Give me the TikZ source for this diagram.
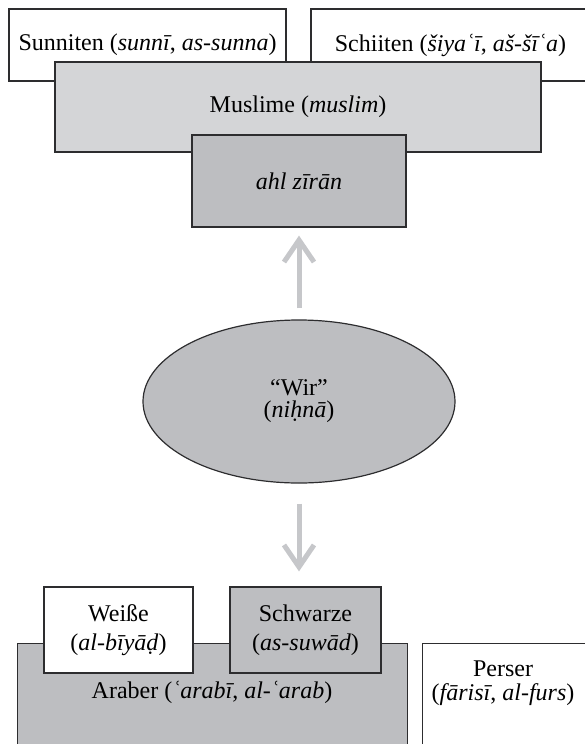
\documentclass[tikz,border=0pt]{standalone}
\usepackage{fontspec}
\setmainfont{Liberation Serif}
\usetikzlibrary{shapes.geometric,arrows.meta}

\definecolor{edgegrey}{RGB}{45,45,47}
\definecolor{lightgrey}{RGB}{212,213,215}
\definecolor{midgrey}{RGB}{189,190,193}
\definecolor{arrowgrey}{RGB}{198,199,202}

\begin{document}
\begin{tikzpicture}[x=1pt, y=-1pt,
    box/.style={draw=edgegrey, line width=1.2pt, inner sep=0pt, align=center,
                font=\fontsize{24}{24}\selectfont},
    txt/.style={inner sep=0pt, align=center, font=\fontsize{24}{24}\selectfont},
    bigarrow/.style={draw=arrowgrey, line width=5pt,
                     -{Straight Barb[length=22pt, width=30pt]}}]
  \clip (0,0) rectangle (585,744);

  % top: religious groups
  \node[box, fill=white, minimum width=277, minimum height=72]
    (sunni) at (147.5,45) {Sunniten (\textit{sunnī}, \textit{as-sunna})};
  \node[box, fill=white, minimum width=279, minimum height=72]
    (schia) at (450.5,45) {Schiiten (\textit{šiyaʿī}, \textit{aš-šīʿa})};
  \node[box, fill=lightgrey, minimum width=486, minimum height=90]
    (muslim) at (298,107) {Muslime (\textit{muslim})};
  \node[box, fill=midgrey, minimum width=214, minimum height=92]
    (ahl) at (299,181) {\textit{ahl zīrān}};

  % centre
  \node[box, ellipse, fill=midgrey, minimum width=312, minimum height=163,
        font=\fontsize{24}{22}\selectfont]
    (wir) at (299,401.5) {“Wir”\\(\textit{niḥnā})};

  % bottom: ethnic groups
  \node[box, fill=midgrey, minimum width=390, minimum height=120, anchor=north west]
    (araber) at (17,643) {};
  \node[txt] (araberlabel) at (212,692) {Araber (\textit{ʿarabī}, \textit{al-ʿarab})};
  \node[box, fill=white, minimum width=149, minimum height=86,
        font=\fontsize{24}{29}\selectfont]
    (weiss) at (118.5,630) {Weiße\\(\textit{al-bīyāḍ})};
  \node[box, fill=midgrey, minimum width=151, minimum height=86,
        font=\fontsize{24}{29}\selectfont]
    (schwarz) at (305.5,630) {Schwarze\\(\textit{as-suwād})};
  \node[box, fill=white, minimum width=180, minimum height=120, anchor=north west]
    (perser) at (422,643) {};
  \node[txt] (perserlabel) at (503,683) {Perser\\(\textit{fārisī}, \textit{al-furs})};

  \draw[bigarrow, shorten <=11pt, shorten >=8pt] (wir.north) -- (ahl.south);
  \draw[bigarrow, shorten <=20pt, shorten >=15pt] (wir.south) -- (wir.south |- schwarz.north);
\end{tikzpicture}
\end{document}
